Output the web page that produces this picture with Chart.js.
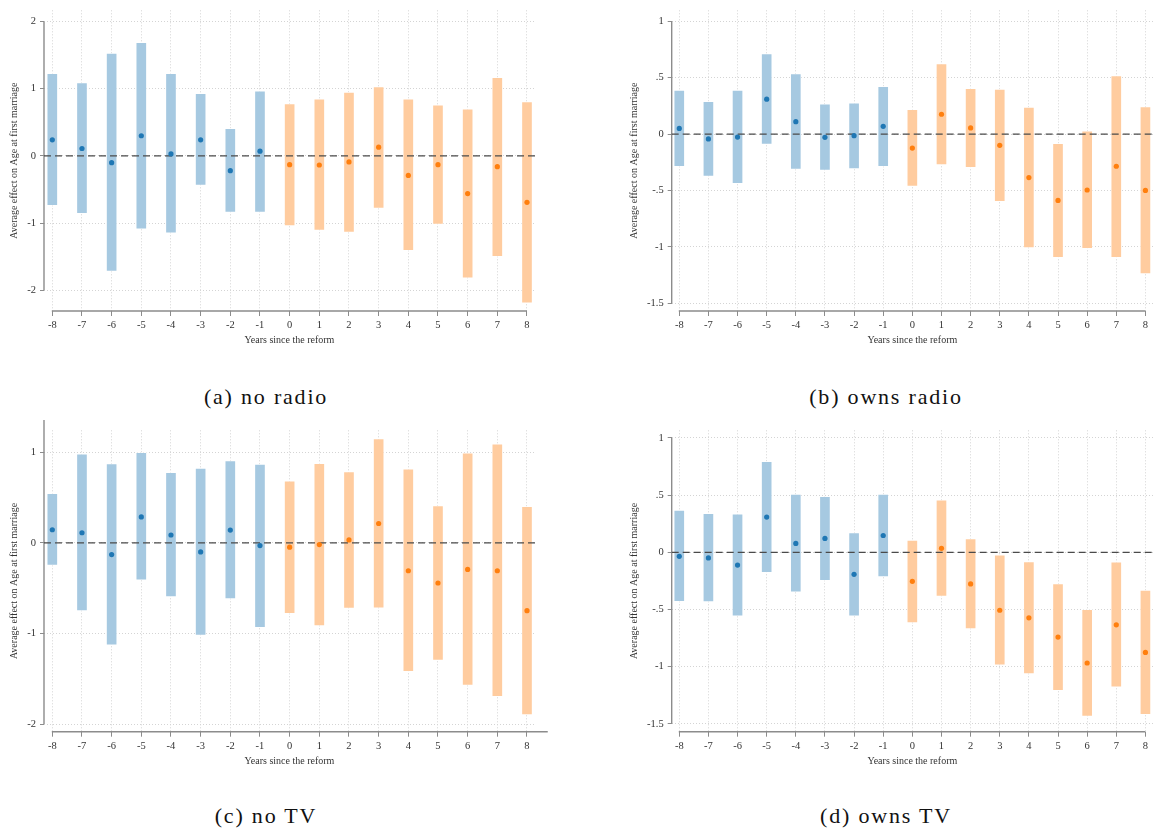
<!DOCTYPE html>
<html>
<head>
<meta charset="utf-8">
<script src="https://cdn.jsdelivr.net/npm/chart.js@4.4.1/dist/chart.umd.min.js"></script>
<style>
  html, body { margin: 0; padding: 0; background: #ffffff; }
  body { width: 1158px; height: 834px; position: relative; overflow: hidden; }
  .panel { position: absolute; }
  .cap { position: absolute; width: 320px; text-align: center; font-family: 'Liberation Serif', 'DejaVu Serif', serif;
         font-size: 22px; line-height: 26px; color: #111; letter-spacing: 1.8px; }
</style>
</head>
<body>
<div class="panel" style="left:0px;top:0px;width:560px;height:350px"><canvas id="cA" width="560" height="350"></canvas></div>
<div class="panel" style="left:620px;top:0px;width:538px;height:350px"><canvas id="cB" width="538" height="350"></canvas></div>
<div class="panel" style="left:0px;top:420px;width:560px;height:350px"><canvas id="cC" width="560" height="350"></canvas></div>
<div class="panel" style="left:620px;top:420px;width:538px;height:350px"><canvas id="cD" width="538" height="350"></canvas></div>

<div class="cap" style="left:106px;top:384px">(a) no radio</div>
<div class="cap" style="left:726px;top:384px">(b) owns radio</div>
<div class="cap" style="left:106px;top:803px">(c) no TV</div>
<div class="cap" style="left:726px;top:803px">(d) owns TV</div>

<script>
// ---------------- data ----------------
const years = [-8, -7, -6, -5, -4, -3, -2, -1, 0, 1, 2, 3, 4, 5, 6, 7, 8];

const noRadioEst  = [0.24, 0.11, -0.10, 0.30, 0.03, 0.24, -0.22, 0.07, -0.13, -0.135, -0.09, 0.13, -0.29, -0.13, -0.56, -0.16, -0.69];
const noRadioLow  = [-0.74, -0.86, -1.72, -1.09, -1.15, -0.44, -0.84, -0.84, -1.04, -1.11, -1.14, -0.78, -1.41, -1.02, -1.82, -1.50, -2.19];
const noRadioHigh = [1.23, 1.09, 1.53, 1.69, 1.23, 0.93, 0.41, 0.97, 0.78, 0.85, 0.95, 1.03, 0.85, 0.76, 0.70, 1.17, 0.81];

const ownsRadioEst  = [0.05, -0.043, -0.026, 0.31, 0.11, -0.029, -0.014, 0.069, -0.124, 0.176, 0.055, -0.10, -0.386, -0.588, -0.496, -0.285, -0.50];
const ownsRadioLow  = [-0.29, -0.375, -0.44, -0.092, -0.314, -0.323, -0.308, -0.288, -0.464, -0.274, -0.297, -0.60, -1.01, -1.095, -1.017, -1.095, -1.24];
const ownsRadioHigh = [0.39, 0.29, 0.39, 0.715, 0.536, 0.268, 0.277, 0.424, 0.219, 0.625, 0.406, 0.40, 0.239, -0.081, 0.029, 0.52, 0.245];

const noTvEst  = [0.146, 0.113, -0.128, 0.288, 0.088, -0.099, 0.142, -0.029, -0.047, -0.018, 0.033, 0.215, -0.307, -0.442, -0.292, -0.307, -0.748];
const noTvLow  = [-0.248, -0.75, -1.128, -0.41, -0.595, -1.02, -0.617, -0.934, -0.78, -0.916, -0.723, -0.719, -1.42, -1.296, -1.573, -1.697, -1.90];
const noTvHigh = [0.547, 0.985, 0.876, 1.0, 0.78, 0.828, 0.91, 0.872, 0.686, 0.88, 0.788, 1.153, 0.818, 0.412, 0.996, 1.095, 0.405];

const ownsTvEst  = [-0.035, -0.049, -0.112, 0.308, 0.078, 0.121, -0.193, 0.147, -0.254, 0.035, -0.277, -0.507, -0.573, -0.741, -0.968, -0.634, -0.876];
const ownsTvLow  = [-0.432, -0.435, -0.559, -0.179, -0.349, -0.248, -0.559, -0.216, -0.617, -0.386, -0.671, -0.988, -1.063, -1.21, -1.435, -1.18, -1.42];
const ownsTvHigh = [0.369, 0.34, 0.337, 0.795, 0.51, 0.49, 0.173, 0.51, 0.107, 0.458, 0.121, -0.023, -0.081, -0.274, -0.499, -0.084, -0.331];

const yTicksWide   = [2, 1, 0, -1, -2];
const yTicksNarrow = [1, 0.5, 0, -0.5, -1, -1.5];

const yTitle = 'Average effect on Age at first marriage';
const xTitle = 'Years since the reform';

// ---------------- styles ----------------
const preFill   = '#a6c9e1';
const postFill  = '#ffcc9f';
const prePoint  = '#1f77b4';
const postPoint = '#ff7f0e';

Chart.defaults.font.family = "'Liberation Serif', 'DejaVu Serif', serif";
Chart.defaults.font.size = 10;
Chart.defaults.color = '#333';

function fmtTick(v) {
  let s = String(Math.round(v * 100) / 100);
  return s.replace(/^0\./, '.').replace(/^-0\./, '-.');
}

const decoPlugin = {
  id: 'deco',
  beforeDatasetsDraw(chart) {
    const ctx = chart.ctx, a = chart.chartArea;
    const xs = chart.scales.x, ys = chart.scales.y;
    const o = chart.options.plugins.deco;
    ctx.save();
    ctx.strokeStyle = '#8c8c8c';
    ctx.lineWidth = 1.4;
    ctx.beginPath();
    ctx.moveTo(a.left, ys.getPixelForValue(o.yTop));
    ctx.lineTo(a.left, ys.getPixelForValue(o.yBottom));
    ctx.moveTo(xs.getPixelForValue(years[0]) - 0.5, a.bottom);
    ctx.lineTo(xs.getPixelForValue(o.xEnd), a.bottom);
    ctx.stroke();
    ctx.restore();
  },
  afterDatasetDraw(chart, args) {
    if (args.index !== 0) return;
    const ctx = chart.ctx, a = chart.chartArea;
    const y0 = chart.scales.y.getPixelForValue(0);
    ctx.save();
    ctx.strokeStyle = '#4a4a4a';
    ctx.lineWidth = 1.3;
    ctx.setLineDash([7, 4]);
    ctx.beginPath();
    ctx.moveTo(a.left, y0);
    ctx.lineTo(a.right, y0);
    ctx.stroke();
    ctx.restore();
  }
};

function makeChart(id, est, low, high, yTicks, L) {
  const bars = years.map((yr, i) => ({ x: yr, y: [low[i], high[i]] }));
  const pts  = years.map((yr, i) => ({ x: yr, y: est[i] }));
  const fills = years.map(yr => yr < 0 ? preFill : postFill);
  const dots  = years.map(yr => yr < 0 ? prePoint : postPoint);
  return new Chart(document.getElementById(id), {
    type: 'bar',
    data: {
      datasets: [
        { type: 'bar', data: bars, backgroundColor: fills, borderColor: 'rgba(255,255,255,0.55)',
          borderWidth: 1, borderSkipped: false, barThickness: 11, grouped: false, order: 2 },
        { type: 'scatter', data: pts, pointBackgroundColor: dots, pointBorderWidth: 0,
          pointRadius: 2.6, showLine: false, order: 1 }
      ]
    },
    plugins: [decoPlugin],
    options: {
      responsive: false,
      animation: false,
      layout: { padding: { left: 0, top: L.top, right: L.right, bottom: 0 } },
      plugins: {
        legend: { display: false },
        tooltip: { enabled: false },
        deco: { yTop: yTicks[0], yBottom: yTicks[yTicks.length - 1], xEnd: L.xEnd }
      },
      scales: {
        x: {
          type: 'linear', min: L.xMin, max: L.xMax, offset: false,
          afterBuildTicks: s => { s.ticks = years.map(v => ({ value: v })); },
          afterFit: s => { s.height = L.xH; },
          ticks: { callback: v => String(v), padding: 3, maxRotation: 0, autoSkip: false, color: '#333', font: { size: 10.5 } },
          grid: { offset: false, color: '#d4d4d4', lineWidth: 1, tickLength: 5, tickColor: '#8c8c8c', tickBorderDash: [] },
          border: { display: false, dash: [1, 2] },
          title: { display: true, text: xTitle, padding: { top: 0, bottom: L.xTitlePad }, color: '#333', font: { size: 10 } }
        },
        y: {
          type: 'linear', min: L.yMin, max: L.yMax,
          afterBuildTicks: s => { s.ticks = yTicks.map(v => ({ value: v })); },
          afterFit: s => { s.width = L.yW; },
          ticks: { callback: v => fmtTick(v), padding: 4, color: '#333', font: { size: 10.5 } },
          grid: { color: '#d4d4d4', lineWidth: 1, tickLength: 4, tickColor: '#8c8c8c', tickBorderDash: [] },
          border: { display: false, dash: [1, 2] },
          title: { display: true, text: yTitle, padding: { top: 8, bottom: 0 }, color: '#333', font: { size: 10 } }
        }
      }
    }
  });
}

makeChart('cA', noRadioEst, noRadioLow, noRadioHigh, yTicksWide,
  { top: 2, right: 25, xH: 39, yW: 44, xMin: -8.28, xMax: 8.27, yMin: -2.308, yMax: 2.167, xTitlePad: 4, xEnd: 8 });
makeChart('cB', ownsRadioEst, ownsRadioLow, ownsRadioHigh, yTicksNarrow,
  { top: 2, right: 5, xH: 39, yW: 51.7, xMin: -8.26, xMax: 8.26, yMin: -1.569, yMax: 1.098, xTitlePad: 4, xEnd: 8 });
makeChart('cC', noTvEst, noTvLow, noTvHigh, yTicksWide,
  { top: 7, right: 25, xH: 38.3, yW: 44, xMin: -8.28, xMax: 8.27, yMin: -2.084, yMax: 1.244, xTitlePad: 2.5, xEnd: 8.7 });
makeChart('cD', ownsTvEst, ownsTvLow, ownsTvHigh, yTicksNarrow,
  { top: 7, right: 5, xH: 38.3, yW: 51.7, xMin: -8.26, xMax: 8.26, yMin: -1.569, yMax: 1.067, xTitlePad: 2.5, xEnd: 8 });
</script>
</body>
</html>
